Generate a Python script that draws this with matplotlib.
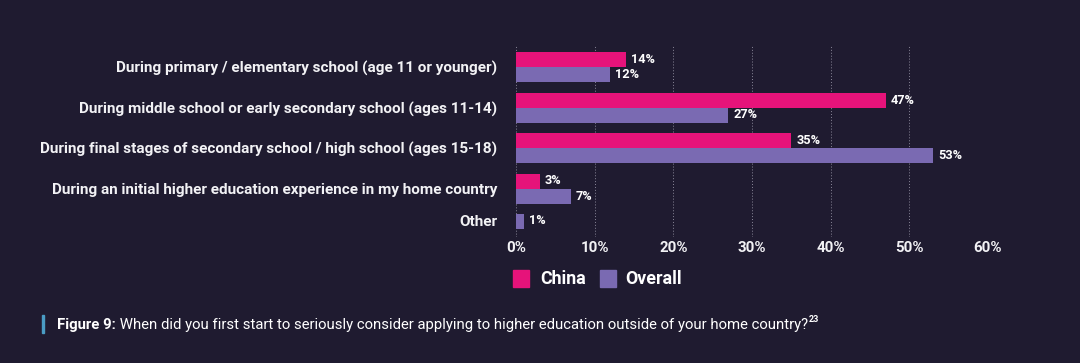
import matplotlib
matplotlib.use("Agg")
import matplotlib.pyplot as plt
from matplotlib.patches import Rectangle
import numpy as np

categories = [
    "During primary / elementary school (age 11 or younger)",
    "During middle school or early secondary school (ages 11-14)",
    "During final stages of secondary school / high school (ages 15-18)",
    "During an initial higher education experience in my home country",
    "Other",
]
china = [14, 47, 35, 3, None]
overall = [12, 27, 53, 7, 1]
xticks = [0, 10, 20, 30, 40, 50, 60]
series_names = ["China", "Overall"]
caption_bold = "Figure 9:"
caption_text = " When did you first start to seriously consider applying to higher education outside of your home country?"
caption_note = "23"

BG = "#1f1b30"
PINK = "#e6137a"
PURPLE = "#7a6ab2"
FONT = "Roboto"

W, H = 1080, 363
fig = plt.figure(figsize=(W / 100, H / 100), dpi=100, facecolor=BG)
# axes: x 516..988 px, y 45..237 px
AX0, AX1 = 516, 988
ax = fig.add_axes([AX0 / W, 1 - 237 / H, (AX1 - AX0) / W, (237 - 45) / H])
ax.set_facecolor(BG)

px_per_unit = 40.5
h = 15 / px_per_unit
px_per_pct = (AX1 - AX0) / 60
gap = 5 / px_per_pct
lab_kw = dict(va="center", ha="left", color="white", fontsize=9.2,
              fontweight="bold", family=FONT)
ypos = []
for i, c in enumerate(china):
    if c is None:
        yc = i - 8 / px_per_unit
        ax.barh(yc, overall[i], height=h, color=PURPLE)
        ax.text(overall[i] + gap, yc, f"{overall[i]}%", **lab_kw)
        ypos.append(yc)
    else:
        ax.barh(i - h / 2, c, height=h, color=PINK)
        ax.barh(i + h / 2, overall[i], height=h, color=PURPLE)
        ax.text(c + gap, i - h / 2, f"{c}%", **lab_kw)
        ax.text(overall[i] + gap, i + h / 2, f"{overall[i]}%", **lab_kw)
        ypos.append(i)

ax.set_xlim(0, 60)
top = -(67 - 45) / px_per_unit
ax.set_ylim(top + (237 - 45) / px_per_unit, top)
ax.set_xticks(xticks)
ax.set_xticklabels([f"{t}%" for t in xticks])
ax.set_yticks(ypos)
ax.set_yticklabels(categories)
ax.tick_params(axis="both", length=0, colors="white")
ax.tick_params(axis="y", pad=13.5)
ax.tick_params(axis="x", pad=3)
for lab in ax.get_yticklabels():
    lab.set_fontsize(10.95)
    lab.set_fontweight("bold")
    lab.set_family(FONT)
    lab.set_color("#f2f2f5")
for lab in ax.get_xticklabels():
    lab.set_fontsize(10.8)
    lab.set_fontweight("bold")
    lab.set_family(FONT)
    lab.set_color("#f2f2f5")
for s in ax.spines.values():
    s.set_visible(False)
ax.grid(axis="x", color="#8a8799", linestyle=(0, (1, 2)), linewidth=0.7)
ax.set_axisbelow(True)

# legend
for x0, col, name, tx in [(513, PINK, series_names[0], 540), (600, PURPLE, series_names[1], 625)]:
    fig.patches.append(Rectangle((x0 / W, 1 - 287 / H), 16 / W, 17 / H,
                                 transform=fig.transFigure, color=col))
    fig.text(tx / W, 1 - 279 / H, name, color="white", fontsize=12.8, fontweight="bold",
             family=FONT, va="center", ha="left")

# caption
fig.patches.append(Rectangle((42 / W, 1 - 333 / H), 2.5 / W, 18 / H,
                             transform=fig.transFigure, color="#4a9cc4"))
t1 = fig.text(57 / W, 1 - 325 / H, caption_bold, color="white", fontsize=10.7,
              fontweight="bold", family=FONT, va="center", ha="left")
fig.canvas.draw()
bb = t1.get_window_extent()
t2 = fig.text(bb.x1 / W, 1 - 325 / H, caption_text, color="white", fontsize=10.7,
              family=FONT, va="center", ha="left")
fig.canvas.draw()
bb2 = t2.get_window_extent()
fig.text(bb2.x1 / W + 1 / W, 1 - 320 / H, caption_note, color="white", fontsize=6.5,
         fontweight="bold", family=FONT, va="center", ha="left")

fig.savefig("out.png", dpi=100, facecolor=BG)
